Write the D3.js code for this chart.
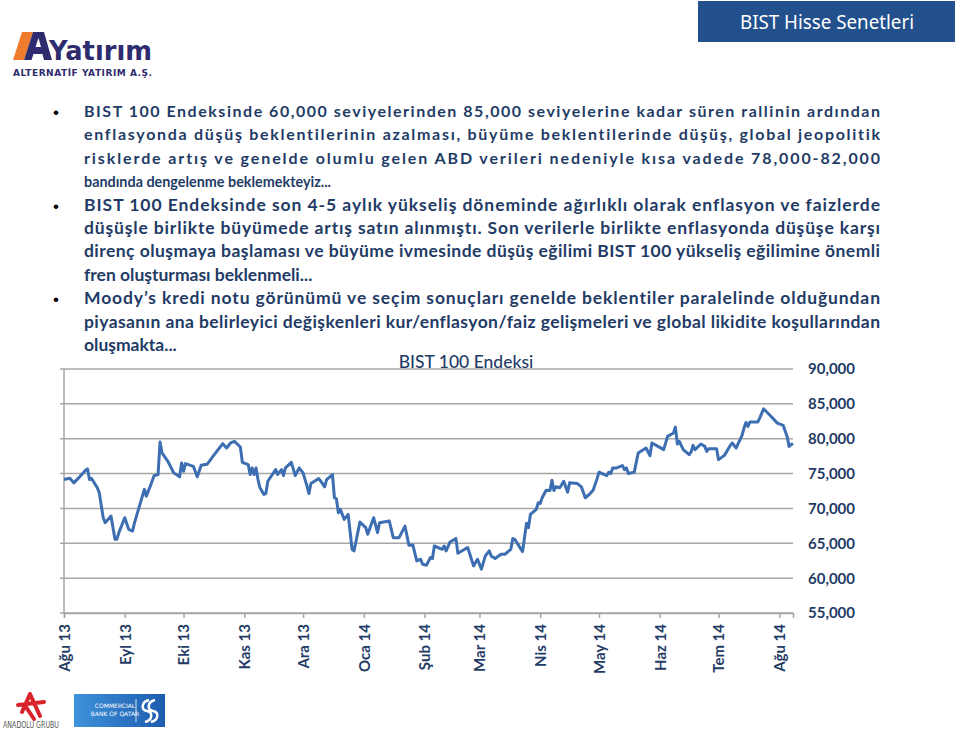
<!DOCTYPE html>
<html>
<head>
<meta charset="utf-8">
<script src="https://cdn.jsdelivr.net/npm/d3@7"></script>
<style>
  body { margin: 0; background: #fff; }
  svg { display: block; }
  text { font-variant-ligatures: none; }
</style>
</head>
<body>
<script>
// BIST 100 daily close
var dates = [
 "2013-08-01","2013-08-04","2013-08-06","2013-08-09","2013-08-12","2013-08-13","2013-08-14","2013-08-15",
 "2013-08-18","2013-08-19","2013-08-21","2013-08-22","2013-08-25","2013-08-27","2013-08-28","2013-08-29",
 "2013-09-01","2013-09-03","2013-09-05","2013-09-06","2013-09-08","2013-09-10","2013-09-11","2013-09-12",
 "2013-09-14","2013-09-16","2013-09-18","2013-09-19","2013-09-20","2013-09-23","2013-09-26","2013-09-29",
 "2013-09-30","2013-10-01","2013-10-02","2013-10-06","2013-10-08","2013-10-10","2013-10-13","2013-10-16",
 "2013-10-21","2013-10-23","2013-10-25","2013-10-27","2013-10-30","2013-10-31","2013-11-03","2013-11-04",
 "2013-11-05","2013-11-06","2013-11-07","2013-11-08","2013-11-09","2013-11-11","2013-11-12","2013-11-13",
 "2013-11-17","2013-11-18","2013-11-20","2013-11-21","2013-11-22","2013-11-25","2013-11-27","2013-11-29",
 "2013-12-01","2013-12-03","2013-12-04","2013-12-05","2013-12-09","2013-12-10","2013-12-12","2013-12-13",
 "2013-12-16","2013-12-17","2013-12-18","2013-12-19","2013-12-20","2013-12-22","2013-12-24","2013-12-26",
 "2013-12-27","2013-12-30","2014-01-02","2014-01-03","2014-01-06","2014-01-08","2014-01-09","2014-01-14",
 "2014-01-16","2014-01-19","2014-01-22","2014-01-24","2014-01-26","2014-01-28","2014-01-30","2014-01-31",
 "2014-02-02","2014-02-04","2014-02-05","2014-02-06","2014-02-10","2014-02-11","2014-02-12","2014-02-14",
 "2014-02-17","2014-02-18","2014-02-23","2014-02-26","2014-02-28","2014-03-02","2014-03-04","2014-03-06",
 "2014-03-07","2014-03-09","2014-03-12","2014-03-14","2014-03-17","2014-03-18","2014-03-19","2014-03-23",
 "2014-03-25","2014-03-26","2014-03-27","2014-03-30","2014-03-31","2014-04-01","2014-04-02","2014-04-04",
 "2014-04-06","2014-04-07","2014-04-08","2014-04-09","2014-04-11","2014-04-13","2014-04-15","2014-04-16",
 "2014-04-20","2014-04-22","2014-04-24","2014-04-26","2014-04-28","2014-04-30","2014-05-01","2014-05-05",
 "2014-05-06","2014-05-07","2014-05-08","2014-05-10","2014-05-13","2014-05-14","2014-05-15","2014-05-16",
 "2014-05-19","2014-05-21","2014-05-25","2014-05-27","2014-05-28","2014-06-01","2014-06-03","2014-06-05",
 "2014-06-08","2014-06-09","2014-06-10","2014-06-11","2014-06-13","2014-06-16","2014-06-17","2014-06-18",
 "2014-06-19","2014-06-22","2014-06-24","2014-06-25","2014-06-26","2014-06-30","2014-07-01","2014-07-04",
 "2014-07-07","2014-07-08","2014-07-10","2014-07-13","2014-07-14","2014-07-15","2014-07-16","2014-07-17",
 "2014-07-21","2014-07-22","2014-07-24","2014-07-27","2014-07-31","2014-08-03","2014-08-05","2014-08-06",
 "2014-08-07","2014-08-08"
];
var values = [
 74150,74330,73670,74530,75470,75670,74140,74330,
 72960,72240,68670,67960,68900,65570,65570,66530,
 68670,67000,66760,67960,69860,71760,72710,71760,
 73190,74710,74860,79530,77960,76760,75100,74530,
 76530,75330,76430,76040,74530,76190,76330,77470,
 79290,78670,79390,79610,78810,76610,76290,74860,
 75810,74860,75810,74140,72960,72000,72140,73900,
 75570,74860,75570,74710,75810,76610,74710,75810,
 75100,73190,72140,73570,74290,73900,73100,74140,
 74860,71530,71390,69390,69860,68430,69140,64140,
 63900,68040,67240,66290,68670,66530,67960,68190,
 65810,65810,67470,64710,64760,62470,62710,62000,
 61860,62960,62810,64610,64140,64610,63900,65190,
 65670,63570,64390,61760,62710,61290,63190,63900,
 63190,62810,63430,63430,64140,65670,65570,63810,
 67860,67240,69140,69860,70810,70710,71530,72610,
 72570,74040,72570,73100,72960,73900,72330,73670,
 73570,73100,71530,72000,72610,74240,75190,74710,
 75190,75000,75810,75810,76140,75570,75810,75000,
 75210,77960,78670,77570,79390,78760,78430,80330,
 80810,81670,79240,79610,78430,77710,78100,79040,
 78430,79240,78900,78190,78570,78570,77000,77610,
 79040,79390,78670,80470,81530,82330,81760,82390,
 82390,82960,84290,83430,82240,81900,80330,78900,
 79140,79330
];
var monthLabels = ["Ağu 13","Eyl 13","Eki 13","Kas 13","Ara 13","Oca 14","Şub 14",
                   "Mar 14","Nis 14","May 14","Haz 14","Tem 14","Ağu 14"];
var yTicks = [55000, 60000, 65000, 70000, 75000, 80000, 85000, 90000];

var chartTitle = "BIST 100 Endeksi";
var headerTitle = "BIST Hisse Senetleri";
// each paragraph: lines, last line's right edge (others are justified to 880)
var paragraphs = [
 { lines: ["BIST 100 Endeksinde 60,000 seviyelerinden 85,000 seviyelerine kadar süren rallinin ardından",
           "enflasyonda düşüş beklentilerinin azalması, büyüme beklentilerinde düşüş, global jeopolitik",
           "risklerde artış ve genelde olumlu gelen ABD verileri nedeniyle kısa vadede 78,000-82,000",
           "bandında dengelenme beklemekteyiz..."], lastEnd: 331 },
 { lines: ["BIST 100 Endeksinde son 4-5 aylık yükseliş döneminde ağırlıklı olarak enflasyon ve faizlerde",
           "düşüşle birlikte büyümede artış satın alınmıştı. Son verilerle birlikte enflasyonda düşüşe karşı",
           "direnç oluşmaya başlaması ve büyüme ivmesinde düşüş eğilimi BIST 100 yükseliş eğilimine önemli",
           "fren oluşturması beklenmeli..."], lastEnd: 349 },
 { lines: ["Moody’s kredi notu görünümü ve seçim sonuçları genelde beklentiler paralelinde olduğundan",
           "piyasanın ana belirleyici değişkenleri kur/enflasyon/faiz gelişmeleri ve global likidite koşullarından",
           "oluşmakta..."], lastEnd: 186 }
];

var W = 960, H = 730;
var navy = "#1F3B66";
var font = "Lato, 'Open Sans', sans-serif";

var svg = d3.select("body").append("svg")
  .attr("width", W).attr("height", H)
  .style("font-family", font);

// header box
svg.append("rect").attr("x", 698).attr("y", 1).attr("width", 257).attr("height", 41).attr("fill", "#22508C");
svg.append("text").attr("x", 740).attr("y", 29)
  .attr("fill", "#fff").style("font-family", "'Noto Sans', sans-serif").style("font-size", "19px")
  .attr("textLength", 174).attr("lengthAdjust", "spacingAndGlyphs")
  .text(headerTitle);

// logo top-left
var logo = svg.append("g");
logo.append("path").attr("d", "M22,32 L33,32 L24,60 L13,60 Z").attr("fill", "#EF7B2C");
logo.append("path").attr("d", "M33,32 L44,32 L52,60 L44,60 L42.5,54 L33.5,54 L31.5,60 L24,60 Z M35.5,47 L41,47 L38.5,38 Z")
  .attr("fill", "#2E2C6E").attr("fill-rule", "evenodd");
logo.append("text").attr("x", 49).attr("y", 60)
  .attr("fill", "#2E2C6E").style("font-family", "'DejaVu Sans', sans-serif").style("font-weight", "bold").style("font-size", "27px")
  .attr("textLength", 103).attr("lengthAdjust", "spacingAndGlyphs").text("Yatırım");
logo.append("text").attr("x", 13).attr("y", 76)
  .attr("fill", "#2E2C6E").style("font-family", "'DejaVu Sans', sans-serif").style("font-weight", "bold").style("font-size", "9px")
  .attr("textLength", 139).attr("lengthAdjust", "spacing").text("ALTERNATİF YATIRIM A.Ş.");

// bulleted text
var lineY0 = 117, lineStep = 23.4, textX = 84, justifyEnd = 880;
var txt = svg.append("g").attr("fill", navy).style("font-weight", "bold");
var row = 0;
paragraphs.forEach(function(p) {
  var y0 = lineY0 + row * lineStep;
  svg.append("text").attr("x", 53).attr("y", y0 + 1).attr("fill", "#000")
    .style("font-family", "Arial, sans-serif").style("font-size", "17px").text("•");
  // size the paragraph so its last (free) line ends where it does in the picture
  var probe = txt.append("text").style("font-size", "20px").text(p.lines[p.lines.length - 1]);
  var w20 = probe.node().getComputedTextLength();
  probe.remove();
  var fs = Math.max(16, Math.min(17.5, 20 * (p.lastEnd - textX) / w20));
  p.lines.forEach(function(s, j) {
    var t = txt.append("text").attr("x", textX).attr("y", lineY0 + row * lineStep)
      .style("font-size", fs + "px").text(s);
    var end = j === p.lines.length - 1 ? p.lastEnd : justifyEnd;
    var natural = t.node().getComputedTextLength();
    if (j < p.lines.length - 1 || natural > end - textX) {
      t.attr("textLength", end - textX)
       .attr("lengthAdjust", natural > end - textX ? "spacingAndGlyphs" : "spacing");
    }
    row++;
  });
});

// chart
var parse = d3.timeParse("%Y-%m-%d");
var data = dates.map(function(d, i) { return { date: parse(d), value: values[i] }; });

var x = d3.scaleTime()
  .domain([parse("2013-08-01"), parse("2014-08-08")])
  .range([64, 793]);
var y = d3.scaleLinear().domain([55000, 90000]).range([613, 369]);

var chart = svg.append("g");

// gridlines
chart.append("g").selectAll("line").data(yTicks).enter().append("line")
  .attr("x1", 60).attr("x2", 793)
  .attr("y1", function(d) { return y(d); }).attr("y2", function(d) { return y(d); })
  .attr("stroke", "#A6A6A6").attr("stroke-width", 1.5);

// y axis line
chart.append("line").attr("x1", 64).attr("x2", 64).attr("y1", 369).attr("y2", 613)
  .attr("stroke", "#A6A6A6").attr("stroke-width", 1.5);

// x axis
var monthTicks = d3.timeMonth.range(parse("2013-08-01"), parse("2014-08-02"));
var xAxis = d3.axisBottom(x)
  .tickValues(monthTicks)
  .tickSize(5)
  .tickFormat(function(d, i) { return monthLabels[i]; });
var gx = chart.append("g").attr("transform", "translate(0,613)").call(xAxis);
gx.select(".domain").attr("stroke", "#A6A6A6").attr("stroke-width", 1.5);
gx.selectAll(".tick line").attr("stroke", "#A6A6A6").attr("stroke-width", 1.5);
gx.selectAll(".tick text")
  .attr("fill", navy)
  .style("font-family", font).style("font-size", "15px").style("font-weight", "bold")
  .attr("transform", "rotate(-90)")
  .attr("text-anchor", "end")
  .attr("x", -11).attr("y", 0).attr("dy", "0.36em");

// y labels on right
chart.append("g").selectAll("text").data(yTicks).enter().append("text")
  .attr("x", 808).attr("y", function(d) { return y(d); }).attr("dy", "0.36em")
  .attr("fill", navy).style("font-size", "15px").style("font-weight", "bold")
  .text(function(d) { return d3.format(",")(d); });

// title
chart.append("text").attr("x", 466).attr("y", 368).attr("text-anchor", "middle")
  .attr("fill", navy).style("font-size", "17.5px").style("font-weight", "500").text(chartTitle);

// line
var line = d3.line()
  .x(function(d) { return x(d.date); })
  .y(function(d) { return y(d.value); });
chart.append("path").datum(data)
  .attr("d", line)
  .attr("fill", "none")
  .attr("stroke", "#3D6EB1")
  .attr("stroke-width", 3)
  .attr("stroke-linejoin", "round");

// bottom logos
var ag = svg.append("g");
ag.append("path").attr("d", "M30,694 L22,712 M30,694 L40,716 M18,705 L44,702 M26,707 L34,719")
  .attr("stroke", "#D8232A").attr("stroke-width", 4).attr("fill", "none").attr("stroke-linecap", "round");
ag.append("text").attr("x", 31).attr("y", 728).attr("text-anchor", "middle")
  .attr("fill", "#555").style("font-family", "'DejaVu Sans', sans-serif").style("font-size", "8px")
  .attr("textLength", 56).attr("lengthAdjust", "spacingAndGlyphs").text("ANADOLU GRUBU");

var grad = svg.append("defs").append("linearGradient").attr("id", "cbq")
  .attr("x1", "0").attr("x2", "1");
grad.append("stop").attr("offset", "0").attr("stop-color", "#3E93DA");
grad.append("stop").attr("offset", "1").attr("stop-color", "#1D5BAE");
var cb = svg.append("g");
cb.append("rect").attr("x", 74).attr("y", 694).attr("width", 91).attr("height", 33).attr("fill", "url(#cbq)");
cb.append("text").attr("x", 115).attr("y", 708).attr("text-anchor", "middle").attr("fill", "#fff")
  .style("font-family", "'DejaVu Sans', sans-serif").style("font-size", "6px").text("COMMERCIAL");
cb.append("text").attr("x", 115).attr("y", 716).attr("text-anchor", "middle").attr("fill", "#fff")
  .style("font-family", "'DejaVu Sans', sans-serif").style("font-size", "6px").text("BANK OF QATAR");
cb.append("line").attr("x1", 136).attr("x2", 136).attr("y1", 699).attr("y2", 722).attr("stroke", "#fff").attr("stroke-width", 0.8);
cb.append("path").attr("d", "M149,700 C141,702 141,710 147,711 C153,712 153,720 145,722 M155,700 C147,702 147,710 153,711 C159,712 159,720 151,722")
  .attr("stroke", "#fff").attr("stroke-width", 2.5).attr("fill", "none");
</script>
</body>
</html>
